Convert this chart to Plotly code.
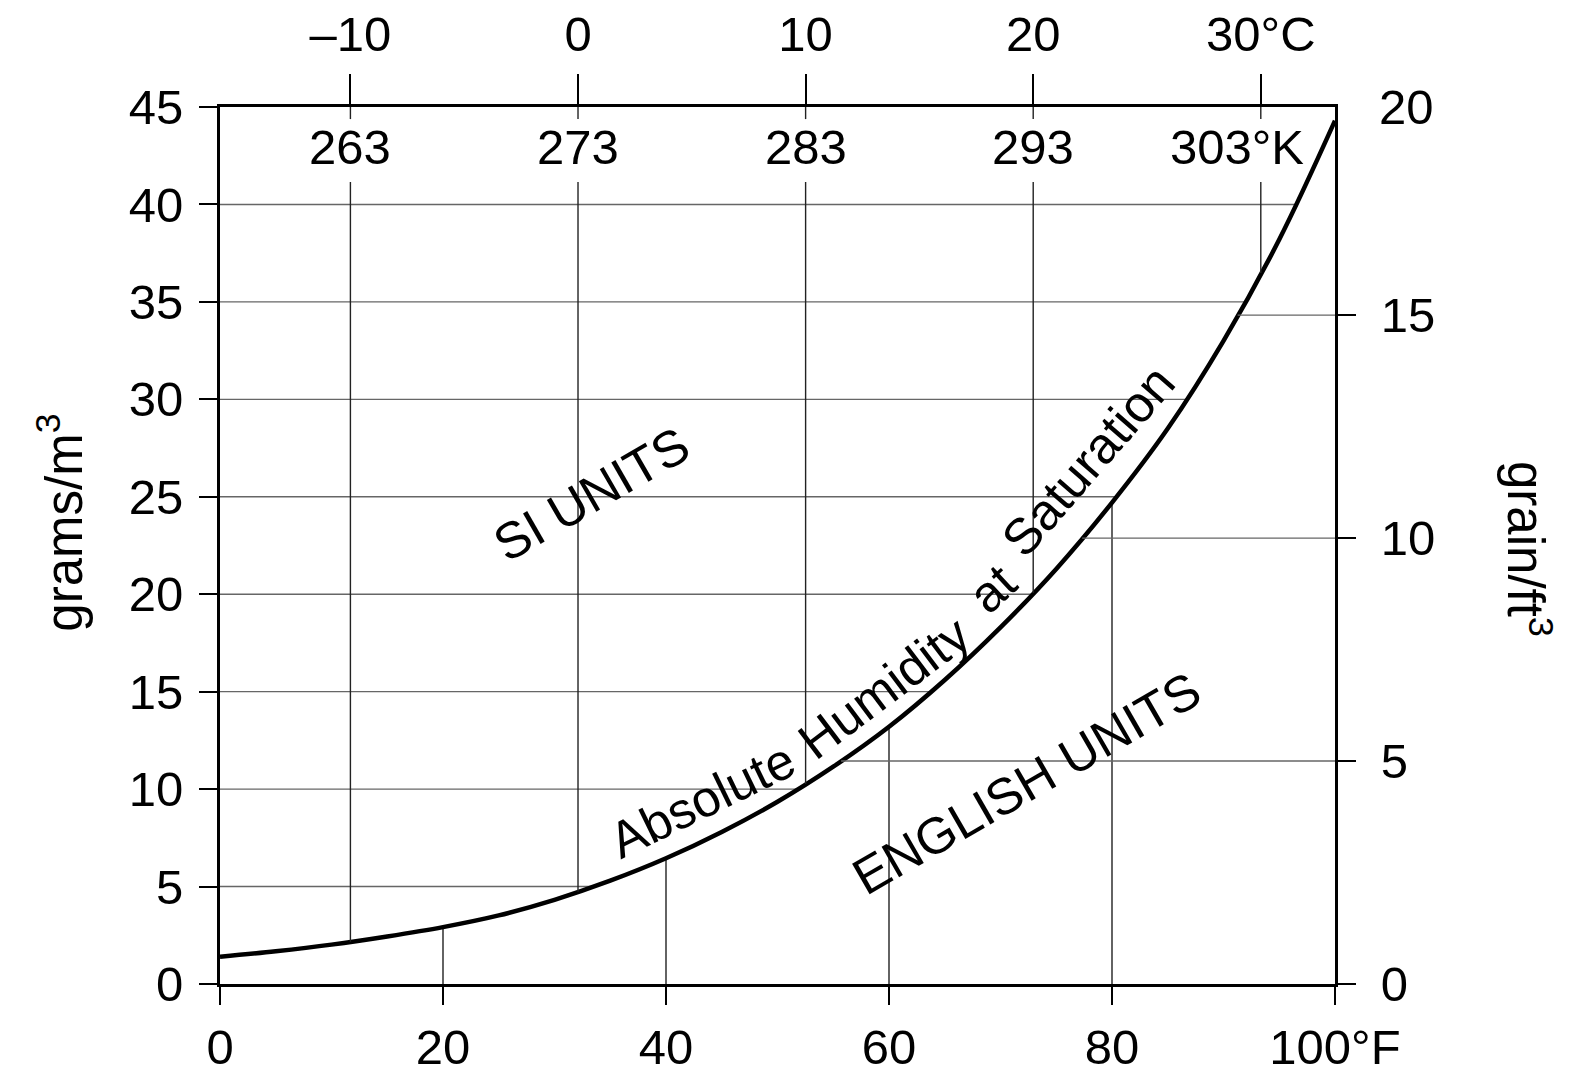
"""
Absolute humidity of saturated air vs. temperature,
drawn with both SI and English unit scales.
"""

import numpy as np
import plotly.graph_objects as go

# ---- 1. Values ----
TEMP_F = [0, 5, 10, 15, 20, 25, 30, 35, 40, 45, 50,
          55, 60, 65, 70, 75, 80, 85, 90, 95, 100]
HUMIDITY_G_M3 = [1.40, 1.68, 2.02, 2.44, 2.92, 3.52, 4.32, 5.30, 6.45, 7.80, 9.35,
                 11.15, 13.2, 15.6, 18.3, 21.3, 24.7, 28.5, 33.0, 38.2, 44.3]

F_TICKS = [0, 20, 40, 60, 80, 100]
F_LABELS = ["0", "20", "40", "60", "80", "100°F"]
C_TICKS = [-10, 0, 10, 20, 30]
C_LABELS = ["–10", "0", "10", "20", "30°C"]
K_LABELS = ["263", "273", "283", "293", "303°K"]
SI_TICKS = [0, 5, 10, 15, 20, 25, 30, 35, 40, 45]
GRAIN_TICKS = [0, 5, 10, 15]
GRAIN_TOP_LABEL = "20"

# ---- 2. Axis ranges ----
F_RANGE = [0, 100]
C_RANGE = [-15.73, 33.26]   # the Celsius scale of the original is drawn a bit stretched
SI_RANGE = [0, 45]
G_PER_GRAIN = 2.288         # 1 grain/ft3 = 2.288 g/m3
GRAIN_RANGE = [0, SI_RANGE[1] / G_PER_GRAIN]

FONT = "Liberation Sans, Arial, sans-serif"
TICK_SIZE = 49
TEXT_SIZE = 51


def curve_at_f(f):
    return float(np.interp(f, TEMP_F, HUMIDITY_G_M3))


def f_at_curve(g):
    return float(np.interp(g, HUMIDITY_G_M3, TEMP_F))


def c_to_f(c):
    frac = (c - C_RANGE[0]) / (C_RANGE[1] - C_RANGE[0])
    return F_RANGE[0] + frac * (F_RANGE[1] - F_RANGE[0])


def segments(pairs):
    """Join ((x0, x1), (y0, y1)) pairs into one line trace with gaps."""
    xs, ys = [], []
    for (x0, x1), (y0, y1) in pairs:
        xs += [x0, x1, None]
        ys += [y0, y1, None]
    return xs, ys


def build_figure():
    fig = go.Figure()

    # SI grid: from the left axis to the curve
    xs, ys = segments([((0, f_at_curve(g)), (g, g)) for g in SI_TICKS[1:-1]])
    fig.add_trace(go.Scatter(x=xs, y=ys, mode="lines", hoverinfo="skip",
                             line=dict(color="#666666", width=1.4)))

    # English grid: from the curve to the right axis
    xs, ys = segments([((f_at_curve(gr * G_PER_GRAIN), F_RANGE[1]), (gr, gr))
                       for gr in GRAIN_TICKS[1:]])
    fig.add_trace(go.Scatter(x=xs, y=ys, yaxis="y2", mode="lines", hoverinfo="skip",
                             line=dict(color="#666666", width=1.4)))

    # Fahrenheit verticals: bottom up to the curve
    xs, ys = segments([((f, f), (0, curve_at_f(f))) for f in F_TICKS[1:-1]])
    fig.add_trace(go.Scatter(x=xs, y=ys, mode="lines", hoverinfo="skip",
                             line=dict(color="#222222", width=1.4)))

    # Celsius verticals: top down to the curve, broken around the Kelvin labels
    gap_lo, gap_hi = 41.15, 44.38
    pairs = []
    for c in C_TICKS:
        pairs.append(((c, c), (SI_RANGE[1], gap_hi)))
        pairs.append(((c, c), (gap_lo, curve_at_f(c_to_f(c)))))
    xs, ys = segments(pairs)
    fig.add_trace(go.Scatter(x=xs, y=ys, xaxis="x2", mode="lines", hoverinfo="skip",
                             line=dict(color="#222222", width=1.4)))

    # the saturation curve
    fig.add_trace(go.Scatter(x=TEMP_F, y=HUMIDITY_G_M3, mode="lines",
                             line=dict(color="black", width=4.5, shape="spline"),
                             name="Absolute Humidity at Saturation"))

    tick_common = dict(ticks="outside", ticklen=18, tickwidth=1.5, tickcolor="black",
                       showline=True, linewidth=3, linecolor="black",
                       showgrid=False, zeroline=False, automargin=False,
                       tickfont=dict(family=FONT, size=TICK_SIZE, color="black"))

    # the page adds a small body margin, so the figure is a little smaller than the window
    fig.update_layout(
        width=1556, height=1066,
        margin=dict(l=212, r=229, t=99, b=90),
        plot_bgcolor="white", paper_bgcolor="white",
        showlegend=False,
        font=dict(family=FONT, color="black"),
        xaxis=dict(range=F_RANGE, tickvals=F_TICKS, ticktext=F_LABELS,
                   ticklabelstandoff=0, **tick_common),
        xaxis2=dict(range=C_RANGE, tickvals=C_TICKS, ticktext=C_LABELS,
                    overlaying="x", side="top", anchor="y",
                    ticklabelstandoff=3, **{**tick_common, "ticklen": 30}),
        yaxis=dict(range=SI_RANGE, tickvals=SI_TICKS,
                   ticklabelstandoff=6, **tick_common),
        yaxis2=dict(range=GRAIN_RANGE, tickvals=GRAIN_TICKS,
                    overlaying="y", side="right", anchor="x",
                    ticklabelstandoff=15, **tick_common),
    )

    text_font = dict(family=FONT, size=TEXT_SIZE, color="black")
    # words laid along the curve, plus the two region labels
    labels = [
        ("SI UNITS", 33.3, 25.1, -30),
        ("Absolute", 43.2, 9.44, -26),
        ("Humidity", 59.6, 15.2, -37),
        ("at", 69.3, 20.3, -43),
        ("Saturation", 77.9, 26.85, -49),
        ("ENGLISH UNITS", 72.3, 10.3, -30),
    ]
    for text, x, y, angle in labels:
        fig.add_annotation(text=text, x=x, y=y, xref="x", yref="y", showarrow=False,
                           textangle=angle, xanchor="center", yanchor="middle",
                           font=text_font)

    # Kelvin labels just inside the top edge
    for c, lab in zip(C_TICKS, K_LABELS):
        fig.add_annotation(text=lab, x=c, y=42.95, xref="x2", yref="y", showarrow=False,
                           xanchor="center", yanchor="middle",
                           xshift=-24 if "K" in lab else 0,
                           font=dict(family=FONT, size=TICK_SIZE, color="black"))

    # top label of the grain scale
    fig.add_annotation(text=GRAIN_TOP_LABEL, x=1, y=SI_RANGE[1], xref="paper", yref="y",
                       showarrow=False, xanchor="left", yanchor="middle", xshift=42,
                       font=dict(family=FONT, size=TICK_SIZE, color="black"))

    # axis titles
    fig.add_annotation(text="grams/m<sup>3</sup>", x=-0.1435, y=0.526,
                       xref="paper", yref="paper", showarrow=False, textangle=-90,
                       xanchor="center", yanchor="middle", font=text_font)
    fig.add_annotation(text="grain/ft<sup>3</sup>", x=1.174, y=0.496,
                       xref="paper", yref="paper", showarrow=False, textangle=90,
                       xanchor="center", yanchor="middle", font=text_font)
    return fig


def main():
    fig = build_figure()
    fig.write_html("out.html")


if __name__ == "__main__":
    main()
